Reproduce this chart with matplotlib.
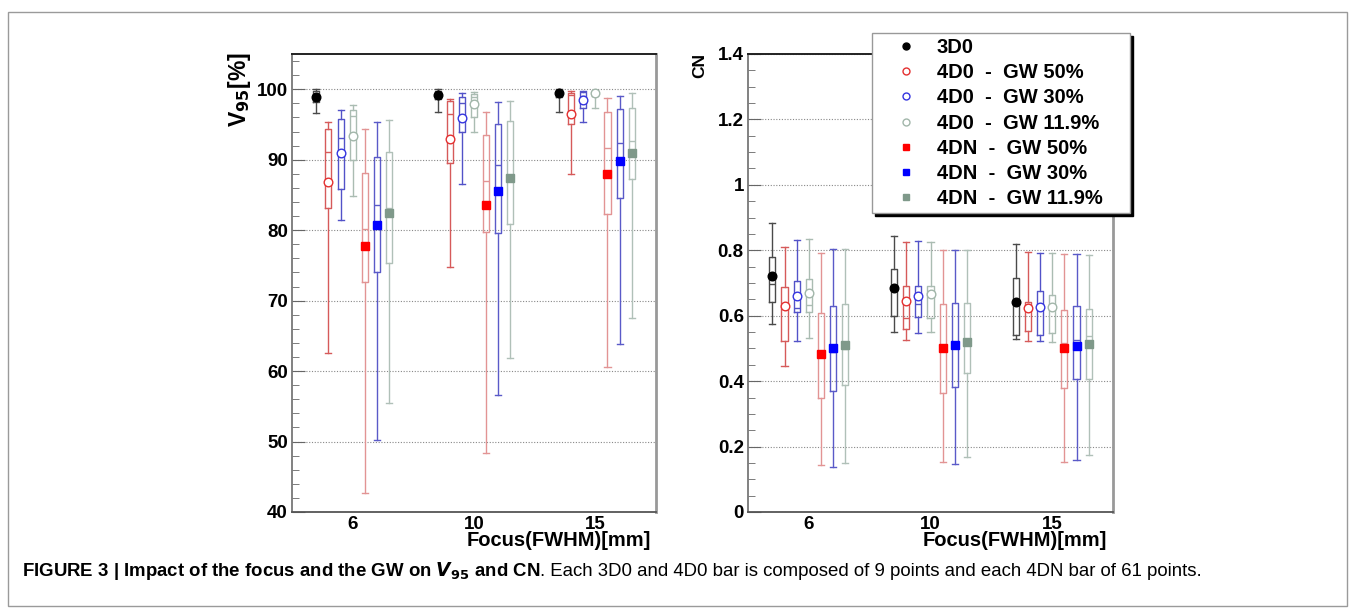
import matplotlib
matplotlib.use("Agg")
import matplotlib.pyplot as plt
from matplotlib.lines import Line2D
from matplotlib.patches import Rectangle
from matplotlib.ticker import MultipleLocator

plt.rcParams['font.family'] = ['Liberation Sans', 'DejaVu Sans']

# ---------------- data ----------------
focus_labels = ["6", "10", "15"]
series_names = ["3D0", "4D0  -  GW 50%", "4D0  -  GW 30%", "4D0  -  GW 11.9%",
                "4DN  -  GW 50%", "4DN  -  GW 30%", "4DN  -  GW 11.9%"]

# V95 [%]
v95_whishi = [[100.0, 100.0, 100.0], [95.4, 98.6, 99.8], [97.0, 99.4, 99.8], [97.8, 99.6, 99.8],
              [94.4, 96.8, 98.8], [95.3, 98.2, 99.05], [95.7, 98.4, 99.4]]
v95_q3 = [[99.7, 99.8, 99.8], [94.3, 98.4, 99.4], [95.8, 98.9, 99.6], [97.0, 99.3, 99.7],
          [88.1, 93.5, 96.7], [90.45, 95.0, 97.2], [91.1, 95.5, 97.35]]
v95_med = [[99.0, 99.2, 99.4], [91.1, 96.45, 99.2], [93.1, 98.0, 99.05], [96.2, 98.9, 99.3],
           [80.1, 87.0, 91.7], [83.6, 89.2, 92.4], [83.2, 87.8, 92.6]]
v95_q1 = [[98.2, 98.6, 98.9], [83.2, 89.6, 95.0], [85.9, 93.9, 97.3], [90.0, 96.0, 99.0],
          [72.6, 79.7, 82.3], [74.0, 79.6, 84.6], [75.4, 80.9, 87.2]]
v95_whislo = [[96.6, 96.8, 96.7], [62.55, 74.8, 87.9], [81.5, 86.5, 95.3], [84.8, 93.9, 97.4],
              [42.7, 48.4, 60.6], [50.2, 56.6, 63.9], [55.5, 61.8, 67.5]]
v95_mean = [[98.9, 99.2, 99.4], [86.85, 93.0, 96.5], [91.0, 95.9, 98.5], [93.3, 97.9, 99.4],
            [77.7, 83.5, 87.9], [80.7, 85.6, 89.8], [82.5, 87.4, 91.0]]

# CN
cn_whishi = [[0.882, 0.844, 0.820], [0.811, 0.826, 0.796], [0.830, 0.828, 0.793], [0.834, 0.826, 0.791],
             [0.791, 0.801, 0.788], [0.803, 0.801, 0.788], [0.805, 0.801, 0.786]]
cn_q3 = [[0.781, 0.743, 0.714], [0.687, 0.690, 0.643], [0.707, 0.692, 0.675], [0.713, 0.692, 0.662],
         [0.607, 0.636, 0.618], [0.631, 0.640, 0.630], [0.635, 0.640, 0.621]]
cn_med = [[0.696, 0.680, 0.640], [0.620, 0.594, 0.624], [0.623, 0.635, 0.628], [0.632, 0.660, 0.628],
          [0.485, 0.500, 0.517], [0.488, 0.510, 0.526], [0.497, 0.520, 0.538]]
cn_q1 = [[0.641, 0.599, 0.540], [0.523, 0.558, 0.553], [0.610, 0.595, 0.541], [0.610, 0.592, 0.548],
         [0.349, 0.365, 0.378], [0.369, 0.381, 0.408], [0.387, 0.424, 0.408]]
cn_whislo = [[0.575, 0.549, 0.528], [0.446, 0.526, 0.524], [0.522, 0.547, 0.524], [0.533, 0.549, 0.520],
             [0.145, 0.153, 0.154], [0.137, 0.148, 0.159], [0.151, 0.168, 0.173]]
cn_mean = [[0.720, 0.684, 0.641], [0.629, 0.644, 0.624], [0.659, 0.659, 0.628], [0.669, 0.666, 0.628],
           [0.484, 0.500, 0.501], [0.500, 0.512, 0.508], [0.509, 0.521, 0.515]]

cn_ticks = [0, 0.2, 0.4, 0.6, 0.8, 1.0, 1.2, 1.4]
cn_ticklabels = ["0", "0.2", "0.4", "0.6", "0.8", "1", "1.2", "1.4"]

caption_bold = r"FIGURE 3 | Impact of the focus and the GW on $\boldsymbol{V}_{\mathbf{95}}$ and CN"
caption_rest = ". Each 3D0 and 4D0 bar is composed of 9 points and each 4DN bar of 61 points."

# ---------------- styles ----------------
line_colors = ["#4a4a4a", "#d65a5a", "#5252c8", "#aabcb2", "#e29494", "#5a5ac8", "#b0c0b8"]
marker_styles = [
    dict(marker='o', markerfacecolor='black', markeredgecolor='black', markersize=6.2),
    dict(marker='o', markerfacecolor='white', markeredgecolor='#e43030', markersize=6.2, markeredgewidth=1.0),
    dict(marker='o', markerfacecolor='white', markeredgecolor='#3535e0', markersize=6.2, markeredgewidth=1.0),
    dict(marker='o', markerfacecolor='white', markeredgecolor='#a2b6aa', markersize=6.2, markeredgewidth=1.0),
    dict(marker='s', markerfacecolor='#ff0000', markeredgecolor='#ff0000', markersize=5.3),
    dict(marker='s', markerfacecolor='#0000ff', markeredgecolor='#0000ff', markersize=5.3),
    dict(marker='s', markerfacecolor='#7f998a', markeredgecolor='#7f998a', markersize=5.3),
]
legend_marker_sizes = [5.0, 5.0, 5.0, 5.0, 4.5, 4.5, 4.5]
group_centers = [5, 15, 25]
offsets = [-3, -2, -1, 0, 1, 2, 3]
TICK_FS = 13.5

W, H = 1355, 613
fig = plt.figure(figsize=(W / 100, H / 100), dpi=100)

ax1 = fig.add_axes([292 / W, 1 - 512 / H, 364 / W, 458 / H])
ax2 = fig.add_axes([748 / W, 1 - 512 / H, 365 / W, 458 / H])


def draw_panel(ax, whislo, q1, med, q3, whishi, mean):
    handles = []
    for s in range(7):
        stats = []
        for g in range(3):
            stats.append(dict(whislo=whislo[s][g], q1=q1[s][g], med=med[s][g], q3=q3[s][g],
                              whishi=whishi[s][g], mean=mean[s][g], fliers=[]))
        pos = [group_centers[g] + offsets[s] for g in range(3)]
        c = line_colors[s]
        lp = dict(color=c, linewidth=1.0)
        ax.bxp(stats, positions=pos, widths=0.5, capwidths=0.5, showmeans=True,
               showfliers=False, boxprops=lp, whiskerprops=lp, capprops=lp,
               medianprops=lp, meanprops=dict(linestyle='none', **marker_styles[s]),
               manage_ticks=False, zorder=3)
        hs = dict(marker_styles[s])
        hs['markersize'] = legend_marker_sizes[s]
        handles.append(Line2D([], [], linestyle='none', **hs))
    ax.set_xlim(0, 30)
    ax.set_xticks(group_centers)
    ax.set_xticklabels(focus_labels, fontsize=TICK_FS, fontweight='bold')
    ax.tick_params(axis='x', length=0, pad=3)
    ax.tick_params(axis='y', which='both', direction='in', labelsize=TICK_FS, pad=3, color='#666666')
    ax.tick_params(axis='y', which='major', length=9)
    ax.tick_params(axis='y', which='minor', length=5)
    ax.yaxis.grid(True, which='major', linestyle=(0, (1, 1.5)), color='#888888', linewidth=0.8)
    ax.set_axisbelow(True)
    ax.spines['top'].set_color('#222222')
    ax.spines['top'].set_linewidth(1.4)
    ax.spines['right'].set_color('#999999')
    ax.spines['right'].set_linewidth(2.0)
    ax.spines['left'].set_color('#777777')
    ax.spines['left'].set_linewidth(1.3)
    ax.spines['bottom'].set_color('#555555')
    ax.spines['bottom'].set_linewidth(1.3)
    return handles


handles = draw_panel(ax1, v95_whislo, v95_q1, v95_med, v95_q3, v95_whishi, v95_mean)
ax1.set_ylim(40, 105)
ax1.yaxis.set_major_locator(MultipleLocator(10))
ax1.yaxis.set_minor_locator(MultipleLocator(2))
for lab in ax1.get_yticklabels():
    lab.set_fontweight('bold')

draw_panel(ax2, cn_whislo, cn_q1, cn_med, cn_q3, cn_whishi, cn_mean)
ax2.set_ylim(0, 1.4)
ax2.yaxis.set_minor_locator(MultipleLocator(0.05))
ax2.set_yticks(cn_ticks)
ax2.set_yticklabels(cn_ticklabels, fontweight='bold')

# axis titles
fig.text(240 / W, 1 - 52 / H, r"V$_{\mathbf{95}}$[%]", rotation=90, ha='center', va='top',
         fontsize=16.5, fontweight='bold')
fig.text(700 / W, 1 - 53 / H, "CN", rotation=90, ha='center', va='top',
         fontsize=12.5, fontweight='bold')
fig.text(651 / W, 1 - 546 / H, "Focus(FWHM)[mm]", ha='right', va='baseline',
         fontsize=14.5, fontweight='bold')
fig.text(1107 / W, 1 - 546 / H, "Focus(FWHM)[mm]", ha='right', va='baseline',
         fontsize=14.5, fontweight='bold')

# legend
leg = fig.legend(handles, series_names, loc='upper left',
                 bbox_to_anchor=(872 / W, 1 - 33 / H, (1130 - 872) / W, 0),
                 mode='expand', borderaxespad=0, borderpad=0.24, labelspacing=0.31,
                 handlelength=2.88, handletextpad=0.1, fancybox=False, framealpha=1,
                 edgecolor='#999999', prop={'weight': 'bold', 'size': 14.5},
                 shadow={'color': 'black', 'alpha': 1})
leg.get_frame().set_linewidth(1.0)

# outer figure frame
fig.patches.append(Rectangle((8 / W, 1 - 606 / H), (1347 - 8) / W, (606 - 12) / H,
                             transform=fig.transFigure, fill=False, edgecolor='#9a9a9a',
                             linewidth=1.0))

# caption
CAP_FS = 13.4
t1 = fig.text(22 / W, 1 - 571 / H, caption_bold, ha='left', va='center',
              fontsize=CAP_FS, fontweight='bold')
fig.canvas.draw()
bb = t1.get_window_extent(renderer=fig.canvas.get_renderer())
fig.text(bb.x1 / W, 1 - 571 / H, caption_rest, ha='left', va='center', fontsize=CAP_FS)

fig.savefig("out.png", dpi=100)
